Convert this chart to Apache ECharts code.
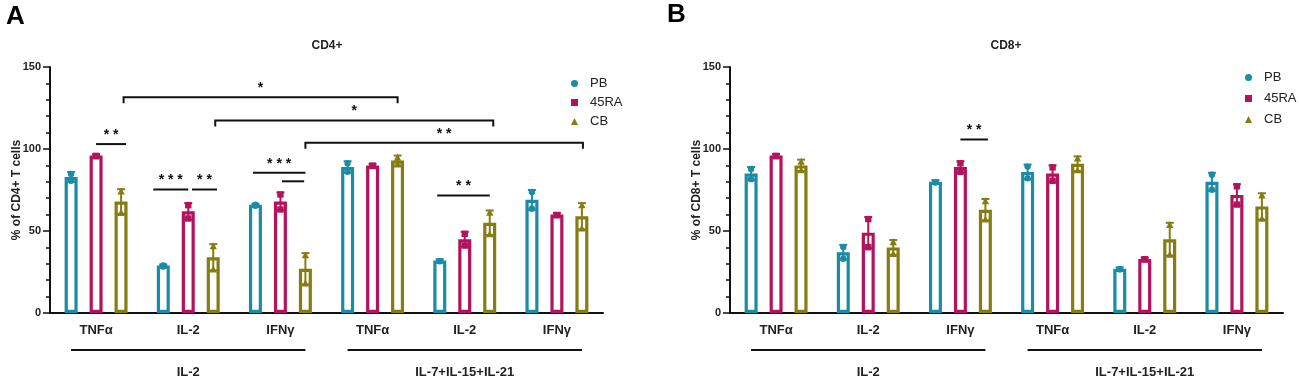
<!DOCTYPE html>
<html>
<head>
<meta charset="utf-8">
<script src="https://cdn.jsdelivr.net/npm/echarts@6/dist/echarts.min.js"></script>
<style>
  html, body { margin: 0; padding: 0; background: #fff; }
  #chart { width: 1299px; height: 384px; }
</style>
</head>
<body>
<div id="chart"></div>
<script>
// ---- data ----
const categories = ["TNFα", "IL-2", "IFNγ", "TNFα", "IL-2", "IFNγ"];
const groupLabels = ["IL-2", "IL-7+IL-15+IL-21"];
const groupSpans = [[0, 2], [3, 5]];
const seriesNames = ["PB", "45RA", "CB"];

// CD4+ (panel A): mean and SD
const pbCD4 = [83, 29, 66, 89, 32, 69];
const raCD4 = [96, 62, 68, 90, 45, 60];
const cbCD4 = [68, 34, 27, 93, 55, 59];
const pbCD4sd = [3, 0.6, 0.6, 3.5, 0.8, 6];
const raCD4sd = [0.8, 5, 5.5, 1, 4.5, 1];
const cbCD4sd = [7.5, 8, 9.5, 3, 7.5, 8];

// CD8+ (panel B)
const pbCD8 = [85, 37, 80, 86, 27, 80];
const raCD8 = [96, 49, 89, 85, 33, 72];
const cbCD8 = [90, 40, 63, 91, 45, 65];
const pbCD8sd = [4, 4.5, 1, 4.5, 0.8, 5.5];
const raCD8sd = [1, 9.5, 3.5, 5, 0.8, 6.5];
const cbCD8sd = [3.5, 4.5, 6.5, 4.5, 10, 8];

// significance: [cat1, slot1, cat2, slot2, y, label, bracket]
const sigCD4 = [
  [0, 0, 0, 1.2, 103, "**", 0],
  [1, -1.4, 1, 0, 75.3, "***", 0],
  [1, 0.15, 1, 1.15, 75.3, "**", 0],
  [2, -1.1, 2, 1.0, 85.5, "***", 0],
  [2, 0.06, 2, 0.95, 80.3, "", 0],
  [0, 1.1, 3, 1.0, 131.6, "*", 1],
  [1, 1.08, 4, 1.14, 117.4, "*", 1],
  [2, 1.0, 5, 1.04, 103.8, "**", 1],
  [4, -1.1, 4, 1.0, 71.6, "**", 0]
];
const sigCD8 = [
  [2, 0, 2, 1.1, 105.8, "**", 0]
];

// ---- style ----
const COLORS = ["#1b8ba6", "#b3135d", "#857d12"];
const SHAPES = ["circle", "rect", "triangle"];
const FONT = 'Arial, "Liberation Sans", Helvetica, sans-serif';
const INK = "#111";
const SLOT = 25; // px between bar centres inside a group

function marker(shape, x, y, color) {
  const r = 3.2;
  if (shape === "circle") return { type: "circle", shape: { cx: x, cy: y, r: r }, style: { fill: color } };
  if (shape === "rect") return { type: "rect", shape: { x: x - r, y: y - r, width: 2 * r, height: 2 * r }, style: { fill: color } };
  return { type: "polygon", shape: { points: [[x, y - r - 0.5], [x + r + 0.5, y + r], [x - r - 0.5, y + r]] }, style: { fill: color } };
}

function barSeries(g, k, means) {
  return {
    type: "bar", name: seriesNames[k], xAxisIndex: g, yAxisIndex: g,
    data: means, barWidth: 13, barGap: "92%",
    itemStyle: { color: "#fff", borderColor: COLORS[k], borderWidth: 3.2 },
    emphasis: { disabled: true }, silent: true, z: 2
  };
}

function errSeries(g, k, means, sds) {
  const slot = k - 1;
  return {
    type: "custom", xAxisIndex: g, yAxisIndex: g, clip: false, silent: true, z: 4,
    data: means.map((m, i) => [i, m, sds[i]]),
    renderItem: function (params, api) {
      const cat = api.value(0), m = api.value(1), s = api.value(2);
      const hi = api.coord([cat, m + s]);
      const lo = api.coord([cat, m - s]);
      const x = hi[0] + slot * SLOT;
      const st = { stroke: COLORS[k], lineWidth: 2 };
      return {
        type: "group",
        children: [
          { type: "line", shape: { x1: x, y1: hi[1], x2: x, y2: lo[1] }, style: st },
          { type: "line", shape: { x1: x - 4, y1: hi[1], x2: x + 4, y2: hi[1] }, style: st },
          { type: "line", shape: { x1: x - 4, y1: lo[1], x2: x + 4, y2: lo[1] }, style: st },
          marker(SHAPES[k], x, hi[1] + 2, COLORS[k]),
          marker(SHAPES[k], x, lo[1] - 1, COLORS[k])
        ]
      };
    }
  };
}

function sigSeries(g, sig) {
  return {
    type: "custom", xAxisIndex: g, yAxisIndex: g, clip: false, silent: true, z: 6,
    data: sig.map(s => [s[0], s[4]]),
    renderItem: function (params, api) {
      const s = sig[params.dataIndex];
      const p1 = api.coord([s[0], s[4]]);
      const p2 = api.coord([s[2], s[4]]);
      const x1 = p1[0] + s[1] * SLOT, x2 = p2[0] + s[3] * SLOT, y = p1[1];
      const pts = s[6] ? [[x1, y + 6], [x1, y], [x2, y], [x2, y + 6]] : [[x1, y], [x2, y]];
      return {
        type: "group",
        children: [
          { type: "polyline", shape: { points: pts }, style: { stroke: INK, lineWidth: 2, fill: null } },
          { type: "text", x: (x1 + x2) / 2, y: y - 2,
            style: { text: s[5].split("").join(" "), fill: INK, font: "bold 14px " + FONT, textAlign: "center", textVerticalAlign: "bottom" } }
        ]
      };
    }
  };
}

function groupSeries(g) {
  return {
    type: "custom", xAxisIndex: g, yAxisIndex: g, clip: false, silent: true, z: 6,
    data: groupSpans.map(sp => [sp[0], 0]),
    renderItem: function (params, api) {
      const sp = groupSpans[params.dataIndex];
      const p1 = api.coord([sp[0], 0]);
      const p2 = api.coord([sp[1], 0]);
      const x1 = p1[0] - SLOT, x2 = p2[0] + SLOT, y = p1[1] + 37;
      return {
        type: "group",
        children: [
          { type: "line", shape: { x1: x1, y1: y, x2: x2, y2: y }, style: { stroke: INK, lineWidth: 2 } },
          { type: "text", x: (x1 + x2) / 2, y: y + 22,
            style: { text: groupLabels[params.dataIndex], fill: "#222", font: "bold 13px " + FONT, textAlign: "center", textVerticalAlign: "middle" } }
        ]
      };
    }
  };
}

function xAxis(g) {
  return {
    type: "category", gridIndex: g, data: categories,
    axisLine: { lineStyle: { color: INK, width: 2 } },
    axisTick: { show: false },
    axisLabel: { color: "#222", fontSize: 13, fontWeight: "bold", fontFamily: FONT, margin: 11 },
    splitLine: { show: false }
  };
}

function yAxis(g, name) {
  return {
    type: "value", gridIndex: g, min: 0, max: 150, interval: 50,
    name: name, nameLocation: "middle", nameGap: 27, nameRotate: 90, nameMoveOverlap: false,
    nameTextStyle: { color: "#222", fontSize: 12, fontWeight: "bold", fontFamily: FONT },
    axisLine: { show: true, lineStyle: { color: INK, width: 2 } },
    axisTick: { show: true, length: 7, lineStyle: { color: INK, width: 1.5 } },
    minorTick: { show: true, splitNumber: 5, length: 4, lineStyle: { color: INK, width: 1.5 } },
    axisLabel: { color: "#222", fontSize: 11, fontWeight: "bold", fontFamily: FONT, margin: 9 },
    splitLine: { show: false }
  };
}

function legend(left, top, gap) {
  return {
    orient: "vertical", left: left, top: top, itemWidth: 7, itemHeight: 7, itemGap: gap,
    selectedMode: false,
    textStyle: { fontSize: 13, color: "#222", fontFamily: FONT, padding: [0, 0, 0, 7] },
    data: seriesNames.map((n, k) => ({ name: n, icon: SHAPES[k], itemStyle: { color: COLORS[k], borderWidth: 0 } }))
  };
}

const chart = echarts.init(document.getElementById("chart"), null, { renderer: "canvas" });

const series = [];
[[pbCD4, raCD4, cbCD4, pbCD4sd, raCD4sd, cbCD4sd], [pbCD8, raCD8, cbCD8, pbCD8sd, raCD8sd, cbCD8sd]].forEach((d, g) => {
  for (let k = 0; k < 3; k++) series.push(barSeries(g, k, d[k]));
  for (let k = 0; k < 3; k++) series.push(errSeries(g, k, d[k], d[k + 3]));
  series.push(groupSeries(g));
});
series.push(sigSeries(0, sigCD4));
series.push(sigSeries(1, sigCD8));

chart.setOption({
  animation: false,
  backgroundColor: "#fff",
  textStyle: { fontFamily: FONT },
  grid: [
    { left: 50, top: 67, width: 553, height: 246 },
    { left: 730, top: 67, width: 553, height: 246 }
  ],
  xAxis: [xAxis(0), xAxis(1)],
  yAxis: [yAxis(0, "% of CD4+ T cells"), yAxis(1, "% of CD8+ T cells")],
  legend: [legend(566, 72, 6), legend(1240, 66, 8)],
  graphic: [
    { type: "text", left: 6, top: 4, style: { text: "A", font: "bold 26px " + FONT, fill: "#000" } },
    { type: "text", left: 667, top: 2, style: { text: "B", font: "bold 26px " + FONT, fill: "#000" } },
    { type: "text", x: 327, y: 46, style: { text: "CD4+", font: "bold 12px " + FONT, fill: "#222", textAlign: "center", textVerticalAlign: "middle" } },
    { type: "text", x: 1006, y: 46, style: { text: "CD8+", font: "bold 12px " + FONT, fill: "#222", textAlign: "center", textVerticalAlign: "middle" } }
  ],
  series: series
});
</script>
</body>
</html>
